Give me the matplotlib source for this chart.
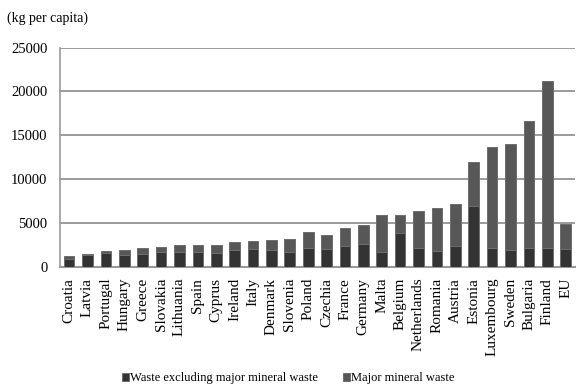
import matplotlib.pyplot as plt
import numpy as np

plt.rcParams['font.family'] = ['Liberation Serif', 'DejaVu Serif']

countries = ['Croatia', 'Latvia', 'Portugal', 'Hungary', 'Greece', 'Slovakia',
             'Lithuania', 'Spain', 'Cyprus', 'Ireland', 'Italy', 'Denmark',
             'Slovenia', 'Poland', 'Czechia', 'France', 'Germany', 'Malta',
             'Belgium', 'Netherlands', 'Romania', 'Austria', 'Estonia',
             'Luxembourg', 'Sweden', 'Bulgaria', 'Finland', 'EU']
# kg per capita
non_mineral = [850, 1300, 1550, 1350, 1450, 1700, 1700, 1700, 1580, 1900,
               2010, 1900, 1700, 2130, 2010, 2400, 2560, 1700, 3850, 2090,
               1830, 2350, 6960, 2090, 1940, 2090, 2090, 1980]
mineral = [350, 200, 200, 550, 680, 550, 740, 740, 860, 890, 890, 1160,
           1510, 1860, 1590, 1970, 2240, 4180, 2050, 4300, 4860, 4840,
           4950, 11530, 12060, 14540, 19150, 2930]

fig = plt.figure(figsize=(5.76, 3.87), dpi=100)
ax = fig.add_axes([0.104, 0.311, 0.894, 0.566])

x = np.arange(len(countries))
ax.bar(x, non_mineral, width=0.58, color='#333333', edgecolor='#6e6e6e',
       linewidth=0.7, label='Waste excluding major mineral waste', zorder=3)
ax.bar(x, mineral, width=0.58, bottom=non_mineral, color='#575757',
       edgecolor='#6e6e6e', linewidth=0.7, label='Major mineral waste', zorder=3)

ax.set_ylim(0, 25000)
ax.set_xlim(-0.5, len(countries) - 0.5)
ax.set_yticks(range(0, 25001, 5000))
ax.yaxis.grid(True, color='#8a8a8a', linewidth=1.2)
ax.set_axisbelow(True)
for s in ['top', 'right']:
    ax.spines[s].set_visible(False)
ax.spines['left'].set_color('#999999')
ax.spines['bottom'].set_color('#999999')
ax.spines['left'].set_linewidth(1.2)
ax.spines['bottom'].set_linewidth(1.5)
ax.tick_params(length=0)
ax.tick_params(axis='y', labelsize=10.5, pad=9)
ax.set_xticks(x)
ax.set_xticklabels(countries, rotation=90, fontsize=11)
ax.tick_params(axis='x', pad=8)

fig.text(0.012, 0.953, '(kg per capita)', fontsize=10, ha='left', va='center')

fig.legend(loc='center', bbox_to_anchor=(0.5, 0.022), ncol=2, frameon=False,
           fontsize=9, handlelength=0.55, handleheight=0.55, handletextpad=0.1,
           columnspacing=2.0)

fig.savefig('out.png', dpi=100)
